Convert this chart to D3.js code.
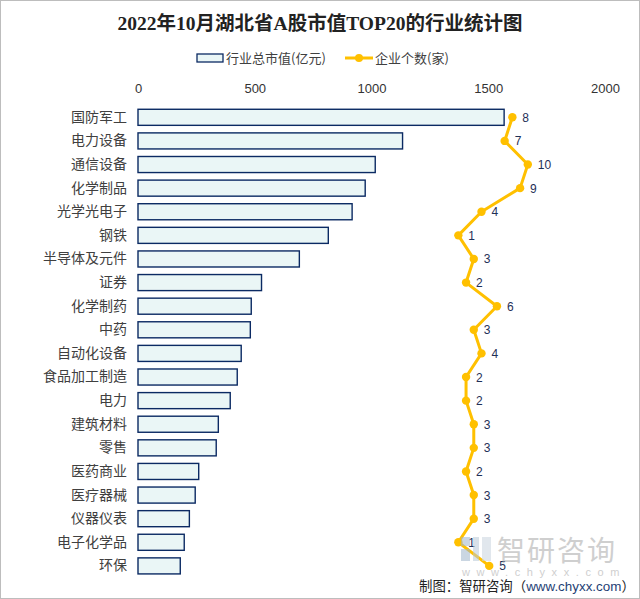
<!DOCTYPE html>
<html><head><meta charset="utf-8">
<script src="https://cdn.jsdelivr.net/npm/d3@7"></script>
<style>body{margin:0;background:#fff}svg{display:block}</style>
</head><body>
<svg id="c" width="640" height="599"></svg>
<script>
const categories = ["国防军工","电力设备","通信设备","化学制品","光学光电子","钢铁","半导体及元件","证券","化学制药","中药","自动化设备","食品加工制造","电力","建筑材料","零售","医药商业","医疗器械","仪器仪表","电子化学品","环保"];
const marketValue = [1568,1133,1016,973,917,815,691,529,485,481,442,425,395,344,335,260,245,220,198,181];
const companyCount = [8,7,10,9,4,1,3,2,6,3,4,2,2,3,3,2,3,3,1,5];
const xTicks = [0,500,1000,1500,2000];
const title = "2022年10月湖北省A股市值TOP20的行业统计图";
const legendLabels = ["行业总市值(亿元)","企业个数(家)"];

(function(){
const svg = d3.select("#c");
const W = 640, H = 599;
const pl = 138, pr = 605, pt = 105.5, pb = 577.7;
const cjk = "'Noto Sans CJK SC','Microsoft YaHei',sans-serif";

svg.append("rect").attr("x",0.5).attr("y",0.5).attr("width",W-1).attr("height",H-1)
  .attr("fill","#fff").attr("stroke","#bdbdbd");

const x = d3.scaleLinear().domain([0,2000]).range([pl,pr]);
const x2 = d3.scaleLinear().domain([-40.5,20]).range([pl,pr]);
const y = d3.scaleBand().domain(categories).range([pt,pb]).paddingInner(0.32).paddingOuter(0.16);

// title
svg.append("text").attr("x",320).attr("y",30).attr("text-anchor","middle")
  .attr("font-family","'Liberation Serif','Noto Sans CJK SC',serif").attr("font-weight","bold")
  .attr("font-size",19.5).attr("fill","#222").text(title);

// legend
const lg = svg.append("g").attr("font-family",cjk).attr("font-size",13).attr("fill","#404040");
lg.append("rect").attr("x",197).attr("y",54).attr("width",26).attr("height",8)
  .attr("fill","#EAF6F6").attr("stroke","#0B2A63").attr("stroke-width",1.3);
lg.append("text").attr("x",226).attr("y",63).text(legendLabels[0]);
lg.append("line").attr("x1",345).attr("x2",373).attr("y1",58).attr("y2",58)
  .attr("stroke","#FFC000").attr("stroke-width",3);
lg.append("circle").attr("cx",359).attr("cy",58).attr("r",4).attr("fill","#FFC000");
lg.append("text").attr("x",375).attr("y",63).text(legendLabels[1]);

// top axis
const ax = svg.append("g").attr("transform",`translate(0,${pt})`)
  .call(d3.axisTop(x).tickValues(xTicks).tickSize(0).tickPadding(13).tickFormat(d3.format("d")));
ax.select(".domain").remove();
ax.selectAll("text").attr("font-family","'Liberation Sans','Noto Sans',sans-serif").attr("font-size",13).attr("fill","#333");

// left axis
const ay = svg.append("g").attr("transform",`translate(${pl},0)`)
  .call(d3.axisLeft(y).tickSize(0).tickPadding(11));
ay.select(".domain").remove();
ay.selectAll("text").attr("font-family",cjk).attr("font-size",14).attr("fill","#404040");

// bars
svg.append("g").selectAll("rect").data(categories).join("rect")
  .attr("x",x(0)).attr("y",d=>y(d)).attr("width",(d,i)=>x(marketValue[i])-x(0)).attr("height",y.bandwidth())
  .attr("fill","#EAF6F6").attr("stroke","#0B2A63").attr("stroke-width",1.4);

// line
const pts = categories.map((c,i)=>[x2(companyCount[i]), y(c)+y.bandwidth()/2, companyCount[i]]);
svg.append("path").attr("d",d3.line()(pts.map(p=>[p[0],p[1]])))
  .attr("fill","none").attr("stroke","#FFC000").attr("stroke-width",3).attr("stroke-linejoin","round");
svg.append("g").selectAll("circle").data(pts).join("circle")
  .attr("cx",d=>d[0]).attr("cy",d=>d[1]).attr("r",4.2).attr("fill","#FFC000");
svg.append("g").selectAll("text").data(pts).join("text")
  .attr("x",d=>d[0]+10).attr("y",d=>d[1]+4.5)
  .attr("font-family","'Liberation Sans','Noto Sans',sans-serif").attr("font-size",12).attr("fill","#1F3057")
  .text(d=>d[2]);

// watermark
const wm = svg.append("g").attr("opacity",0.55);
wm.append("rect").attr("x",461).attr("y",537).attr("width",9).attr("height",9).attr("fill","#9fb6cc");
wm.append("rect").attr("x",461).attr("y",549).attr("width",9).attr("height",12).attr("fill","#9fb6cc");
wm.append("rect").attr("x",473).attr("y",537).attr("width",6).attr("height",24).attr("fill","#b9c9d8");
wm.append("rect").attr("x",482).attr("y",537).attr("width",9).attr("height",24).attr("fill","#c9d5e0");
wm.append("text").attr("x",497).attr("y",561).attr("font-family",cjk).attr("font-size",28)
  .attr("fill","#a8a8a8").attr("letter-spacing",2).text("智研咨询");
wm.append("text").attr("x",462).attr("y",576).attr("font-family","'Liberation Sans',sans-serif").attr("font-size",11)
  .attr("fill","#a8a8a8").attr("letter-spacing",6.6).text("www.chyxx.com");

// footer
const ft = svg.append("text").attr("x",419).attr("y",591).attr("font-family",cjk).attr("font-size",13.5).attr("fill","#222");
ft.append("tspan").text("制图：智研咨询（");
ft.append("tspan").attr("fill","#1F3F75").attr("font-family","'Liberation Sans',sans-serif").text("www.chyxx.com");
ft.append("tspan").text("）");
const len = ft.node().getComputedTextLength();
if (len > 216) ft.attr("font-size", 13.5*216/len);
})();
</script>
</body></html>
